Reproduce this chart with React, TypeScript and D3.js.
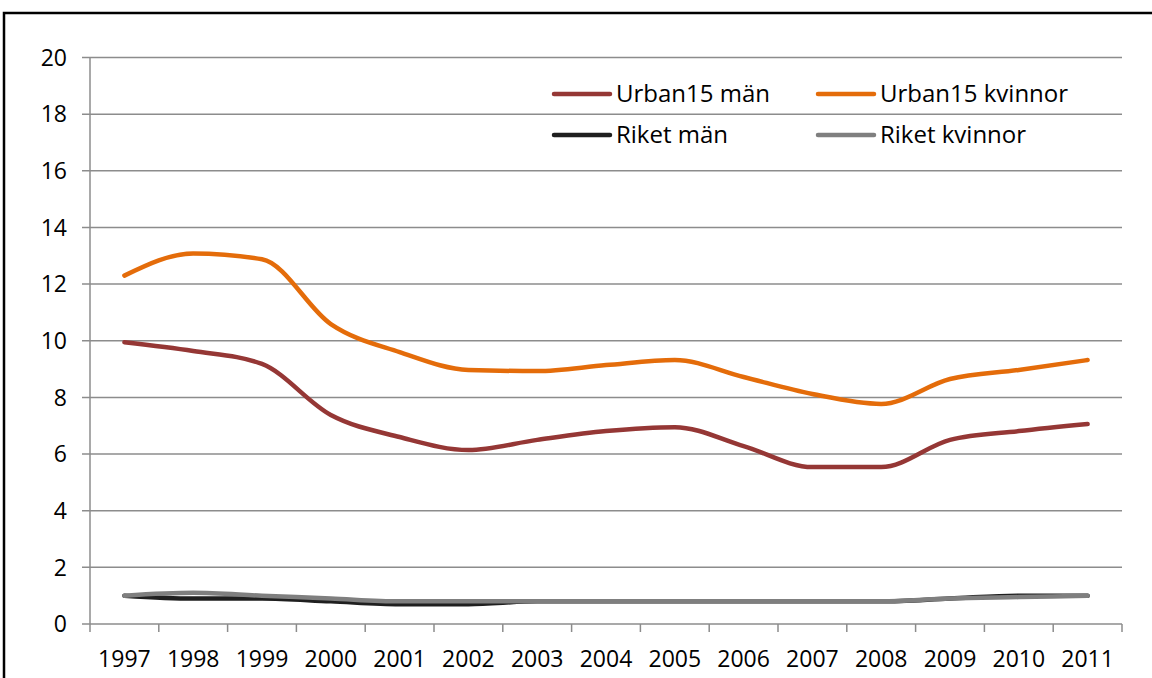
import React, { useEffect, useRef } from 'react';
import * as d3 from 'd3';

const years = ['1997', '1998', '1999', '2000', '2001', '2002', '2003', '2004', '2005', '2006', '2007', '2008', '2009', '2010', '2011'];
const urbanMen = [9.95, 9.64, 9.18, 7.38, 6.6, 6.14, 6.5, 6.81, 6.95, 6.28, 5.54, 5.54, 6.5, 6.81, 7.06];
const urbanWomen = [12.3, 13.08, 12.88, 10.59, 9.6, 8.97, 8.93, 9.14, 9.32, 8.72, 8.12, 7.77, 8.65, 8.97, 9.32];
const riketMen = [1.0, 0.9, 0.9, 0.8, 0.7, 0.7, 0.8, 0.8, 0.8, 0.8, 0.8, 0.8, 0.9, 1.0, 1.0];
const riketWomen = [1.0, 1.1, 1.0, 0.9, 0.8, 0.8, 0.8, 0.8, 0.8, 0.8, 0.8, 0.8, 0.9, 0.95, 1.0];
const yTicks = [0, 2, 4, 6, 8, 10, 12, 14, 16, 18, 20];

const seriesList = [
    { name: 'Riket män', values: riketMen, color: '#1f1f1f' },
    { name: 'Riket kvinnor', values: riketWomen, color: '#7f7f7f' },
    { name: 'Urban15 män', values: urbanMen, color: '#953735' },
    { name: 'Urban15 kvinnor', values: urbanWomen, color: '#e46c0a' },
];

const legendItems = [
    { name: 'Urban15 män', color: '#953735', col: 0, row: 0 },
    { name: 'Urban15 kvinnor', color: '#e46c0a', col: 1, row: 0 },
    { name: 'Riket män', color: '#1f1f1f', col: 0, row: 1 },
    { name: 'Riket kvinnor', color: '#7f7f7f', col: 1, row: 1 },
];

const App = () => {
    const svgRef = useRef<SVGSVGElement | null>(null);

    useEffect(() => {
        const width = 1152;
        const height = 678;
        const left = 90;
        const right = 1122;
        const top = 57.5;
        const bottom = 624;
        const font = '"Open Sans", Lato, sans-serif';
        const tickSize = '23px';
        const legendSize = '24px';

        const svg = d3.select(svgRef.current);
        svg.selectAll('*').remove();
        svg.attr('width', width).attr('height', height);

        svg.append('rect').attr('width', width).attr('height', height).attr('fill', '#fff');

        // outer frame
        svg.append('rect')
            .attr('x', 4)
            .attr('y', 13)
            .attr('width', width + 20)
            .attr('height', height + 20)
            .attr('fill', 'none')
            .attr('stroke', '#000')
            .attr('stroke-width', 2.5);

        const x = d3.scaleBand().domain(years).range([left, right]);
        const y = d3.scaleLinear().domain([0, 20]).range([bottom, top]);

        // gridlines and y ticks
        svg.append('g')
            .selectAll('line')
            .data(yTicks)
            .join('line')
            .attr('x1', left - 8)
            .attr('x2', right)
            .attr('y1', d => y(d))
            .attr('y2', d => y(d))
            .attr('stroke', '#8c8c8c')
            .attr('stroke-width', 1.5);

        svg.append('g')
            .selectAll('text')
            .data(yTicks)
            .join('text')
            .attr('x', 67)
            .attr('y', d => y(d))
            .attr('dy', '0.36em')
            .attr('text-anchor', 'end')
            .style('font-family', font)
            .style('font-size', tickSize)
            .style('fill', '#000')
            .text(d => d);

        // y axis line
        svg.append('line')
            .attr('x1', left).attr('x2', left)
            .attr('y1', top).attr('y2', bottom)
            .attr('stroke', '#8c8c8c')
            .attr('stroke-width', 1.5);

        // x ticks at band edges
        const edges = years.map(d => x(d) as number).concat([right]);
        svg.append('g')
            .selectAll('line')
            .data(edges)
            .join('line')
            .attr('x1', d => d).attr('x2', d => d)
            .attr('y1', bottom).attr('y2', bottom + 8)
            .attr('stroke', '#8c8c8c')
            .attr('stroke-width', 1.5);

        svg.append('g')
            .selectAll('text')
            .data(years)
            .join('text')
            .attr('x', d => (x(d) as number) + x.bandwidth() / 2)
            .attr('y', 667)
            .attr('text-anchor', 'middle')
            .style('font-family', font)
            .style('font-size', tickSize)
            .style('fill', '#000')
            .text(d => d);

        const line = d3.line<number>()
            .x((_, i) => (x(years[i]) as number) + x.bandwidth() / 2)
            .y(d => y(d))
            .curve(d3.curveMonotoneX);

        seriesList.forEach(s => {
            svg.append('path')
                .attr('d', line(s.values))
                .attr('fill', 'none')
                .attr('stroke', s.color)
                .attr('stroke-width', 4.5)
                .attr('stroke-linecap', 'round')
                .attr('stroke-linejoin', 'round');
        });

        // legend
        const legend = svg.append('g');
        legendItems.forEach(item => {
            const lx = item.col === 0 ? 554 : 818;
            const ly = item.row === 0 ? 94 : 135;
            legend.append('line')
                .attr('x1', lx).attr('x2', lx + 56)
                .attr('y1', ly).attr('y2', ly)
                .attr('stroke', item.color)
                .attr('stroke-width', 4.5)
                .attr('stroke-linecap', 'round');
            legend.append('text')
                .attr('x', lx + 62)
                .attr('y', ly + 8)
                .style('font-family', font)
                .style('font-size', legendSize)
                .style('fill', '#000')
                .text(item.name);
        });
    }, []);

    return (
        <div style={{ position: 'absolute', left: 0, top: 0, width: 1152, height: 678, overflow: 'hidden' }}>
            <svg ref={svgRef} style={{ display: 'block' }}></svg>
        </div>
    );
};

export default App;
